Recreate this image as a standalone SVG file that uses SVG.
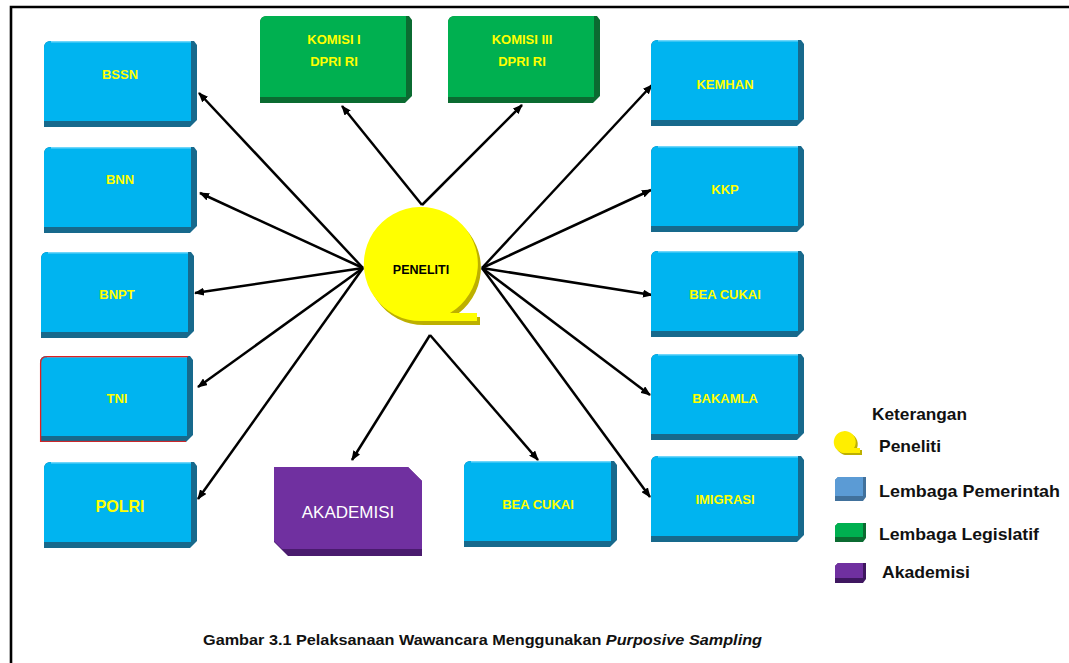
<svg xmlns="http://www.w3.org/2000/svg" width="1069" height="663" viewBox="0 0 1069 663">
<defs>
<style>
.bd{fill:#17698C}.bf{fill:#00B4F0}
.gd{fill:#0B6B31}.gf{fill:#00B050}
.pd{fill:#4A1B6E}.pf{fill:#7030A0}
.lbl{font-family:"Liberation Sans",Arial,sans-serif;font-weight:bold;font-size:13px;fill:#FFFF00;text-anchor:middle}
.leg{font-family:"Liberation Sans",Arial,sans-serif;font-weight:bold;font-size:17px;fill:#111}
.con line{stroke:#000;stroke-width:2.5;marker-end:url(#ah)}
</style>
<marker id="ah" markerWidth="10" markerHeight="8" refX="9" refY="4" orient="auto" markerUnits="userSpaceOnUse"><path d="M0,0 L10,4 L0,8 Z" fill="#000"/></marker>
<g id="boxB">
<path class="bd" d="M7,0 H150 L153,4 V79 L146,86 H0 V7 Q0,0 7,0 Z"/>
<path class="bf" d="M7,0 H147 V80 H0 V7 Q0,0 7,0 Z"/>
<path d="M7,0.8 H147" stroke="#6FD6FA" stroke-width="1.4"/>
</g>
<g id="boxG">
<path class="gd" d="M7,0 H149 L152,4 V80 L145,87 H0 V7 Q0,0 7,0 Z"/>
<path class="gf" d="M7,0 H146 V81 H0 V7 Q0,0 7,0 Z"/>
</g>
</defs>
<rect width="1069" height="663" fill="#fff"/>
<path d="M11,663 V7 H1069" fill="none" stroke="#000" stroke-width="2.6"/>

<g class="con">
<line x1="363" y1="268" x2="199" y2="93"/>
<line x1="363" y1="268" x2="200" y2="193"/>
<line x1="363" y1="268" x2="195" y2="293"/>
<line x1="363" y1="268" x2="198" y2="387"/>
<line x1="363" y1="268" x2="198" y2="499"/>
<line x1="422" y1="205" x2="342" y2="106"/>
<line x1="422" y1="205" x2="522" y2="105"/>
<line x1="482" y1="268" x2="652" y2="85"/>
<line x1="482" y1="268" x2="651" y2="190"/>
<line x1="482" y1="268" x2="652" y2="295"/>
<line x1="482" y1="268" x2="650" y2="395"/>
<line x1="482" y1="268" x2="650" y2="497"/>
<line x1="430" y1="335" x2="352" y2="460"/>
<line x1="430" y1="335" x2="538" y2="460"/>
</g>

<g id="peneliti">
<path d="M424,325 A57,57 0 1 1 453,317 L480,317 L480,325 Z" fill="#BDB000"/>
<path d="M421,321 A57,57 0 1 1 450,313 L477,313 L477,321 Z" fill="#FFFF00"/>
<text x="421" y="274" font-family="Liberation Sans,Arial,sans-serif" font-weight="bold" font-size="12.5" fill="#000" text-anchor="middle">PENELITI</text>
</g>

<g id="bssn"><use href="#boxB" x="44" y="41"/><text class="lbl" x="120" y="79">BSSN</text></g>
<g id="bnn"><use href="#boxB" x="44" y="147"/><text class="lbl" x="120" y="184">BNN</text></g>
<g id="bnpt"><use href="#boxB" x="41" y="252"/><text class="lbl" x="117" y="299">BNPT</text></g>
<g id="tni"><use href="#boxB" x="40" y="356"/><path d="M40.6,442 V363 Q40.6,356.6 47,356.6 H188" fill="none" stroke="#E02020" stroke-width="1.3"/><path d="M40.6,441.4 H186" stroke="#E02020" stroke-width="1"/><text class="lbl" x="117" y="403">TNI</text></g>
<g id="polri"><use href="#boxB" x="44" y="462"/><text class="lbl" x="120" y="512" style="font-size:16px">POLRI</text></g>

<g id="komisi1"><use href="#boxG" x="260" y="16"/><text class="lbl" x="334" y="44">KOMISI I</text><text class="lbl" x="334" y="66">DPRI RI</text></g>
<g id="komisi3"><use href="#boxG" x="448" y="16"/><text class="lbl" x="522" y="44">KOMISI III</text><text class="lbl" x="522" y="66">DPRI RI</text></g>

<g id="kemhan"><use href="#boxB" x="651" y="40"/><text class="lbl" x="725" y="89">KEMHAN</text></g>
<g id="kkp"><use href="#boxB" x="651" y="146"/><text class="lbl" x="725" y="194">KKP</text></g>
<g id="beacukai1"><use href="#boxB" x="651" y="251"/><text class="lbl" x="725" y="299">BEA CUKAI</text></g>
<g id="bakamla"><use href="#boxB" x="651" y="354"/><text class="lbl" x="725" y="403">BAKAMLA</text></g>
<g id="imigrasi"><use href="#boxB" x="651" y="456"/><text class="lbl" x="725" y="504">IMIGRASI</text></g>
<g id="beacukai2"><use href="#boxB" x="464" y="461"/><text class="lbl" x="538" y="509">BEA CUKAI</text></g>

<g id="akademisi">
<path class="pd" d="M274,467 H408 L422,481 V556 H288 L274,542 Z"/>
<path class="pf" d="M274,467 H408 L422,481 V549 H282 L274,541 Z"/>
<text x="348" y="518" font-family="Liberation Sans,Arial,sans-serif" font-size="17" fill="#fff" text-anchor="middle">AKADEMISI</text>
</g>

<g id="legend">
<text class="leg" x="872" y="420" textLength="95" lengthAdjust="spacingAndGlyphs">Keterangan</text>
<path d="M848,455 A11,11 0 1 1 856,450 L862,450 L862,455 Z" fill="#BDB000"/>
<path d="M846,453 A11,11 0 1 1 854,448 L860,448 L860,453 Z" fill="#FFEE00"/>
<text class="leg" x="879" y="452" textLength="62" lengthAdjust="spacingAndGlyphs">Peneliti</text>
<path d="M838,477 H866 V497 L863,501 H835 V480 Z" fill="#41719C"/>
<path d="M838,477 H863 V496 H835 V480 Z" fill="#5B9BD5"/>
<text class="leg" x="879" y="497" textLength="181" lengthAdjust="spacingAndGlyphs">Lembaga Pemerintah</text>
<path d="M838,523 H866 V538 L863,542 H835 V526 Z" fill="#0B6B31"/>
<path d="M838,523 H863 V537 H835 V526 Z" fill="#00B050"/>
<text class="leg" x="879" y="540" textLength="160" lengthAdjust="spacingAndGlyphs">Lembaga Legislatif</text>
<path d="M838,563 H866 V579 L863,583 H835 V566 Z" fill="#3F1760"/>
<path d="M838,563 H863 V578 H835 V566 Z" fill="#7030A0"/>
<text class="leg" x="882" y="578" textLength="88" lengthAdjust="spacingAndGlyphs">Akademisi</text>
</g>

<text x="203" y="645" font-family="Liberation Sans,Arial,sans-serif" font-weight="bold" font-size="15" fill="#111" textLength="559" lengthAdjust="spacingAndGlyphs">Gambar 3.1 Pelaksanaan Wawancara Menggunakan <tspan font-style="italic">Purposive Sampling</tspan></text>
</svg>
